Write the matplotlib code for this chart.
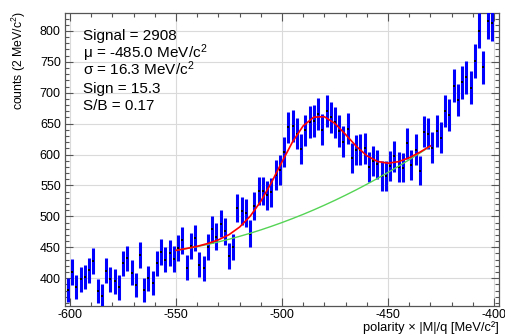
import matplotlib.pyplot as plt
from matplotlib.ticker import MultipleLocator
import numpy as np

plt.rcParams['font.family'] = ['Liberation Sans', 'DejaVu Sans']
plt.rcParams['mathtext.fontset'] = 'custom'
plt.rcParams['mathtext.rm'] = 'Liberation Sans'
plt.rcParams['mathtext.it'] = 'Liberation Sans:italic'
plt.rcParams['axes.unicode_minus'] = False

# 2 MeV bins, centres from -601 to -401
bin_centers = np.arange(-601, -400, 2)
counts = [
    381, 410, 386, 398, 402, 413, 428, 379, 371, 412,
    398, 395, 385, 424, 432, 409, 389, 438, 381, 400,
    392, 424, 443, 430, 440, 431, 449, 461, 417, 452,
    465, 422, 416, 451, 479, 467, 488, 476, 436, 451,
    514, 509, 506, 472, 517, 541, 541, 534, 539, 567,
    575, 604, 644, 646, 634, 609, 639, 653, 654, 665,
    640, 671, 660, 652, 638, 621, 642, 594, 607, 608,
    610, 580, 589, 584, 565, 565, 582, 597, 580, 579,
    618, 583, 608, 574, 637, 634, 611, 638, 627, 670,
    664, 711, 688, 717, 725, 708, 751, 800, 741, 816,
    813,
]
errors = np.sqrt(counts)

# fit curves (signal + background, background only)
fit_x = [-550, -545, -540, -535, -530, -525, -520, -515, -510, -505,
         -500, -495, -490, -485, -480, -475, -470, -465, -460, -455,
         -450, -445, -440, -435, -430]
fit_total = [445.0, 448.1, 451.6, 456.1, 462.0, 470.4, 482.7, 500.3, 524.4, 554.6,
             588.2, 620.7, 646.4, 660.5, 661.2, 650.3, 632.5, 613.6, 598.2, 588.9,
             586.0, 588.5, 594.8, 603.7, 614.0]
fit_bkg = [445.0, 447.9, 451.1, 454.7, 458.7, 463.0, 467.7, 472.7, 478.1, 483.9,
           490.0, 496.5, 503.3, 510.5, 518.1, 526.0, 534.3, 542.9, 551.9, 561.3,
           571.0, 581.1, 591.5, 602.3, 613.5]

info_lines = [
    'Signal = 2908',
    '\u03bc = -485.0 MeV/c$^{\\mathregular{2}}$',
    '\u03c3 = 16.3 MeV/c$^{\\mathregular{2}}$',
    'Sign = 15.3',
    'S/B = 0.17',
]

W, H = 505, 334
fig = plt.figure(figsize=(W / 100, H / 100), dpi=100)
ax = fig.add_axes([65 / W, 1 - 306 / H, 434 / W, 293 / H])

ax.grid(True, color='#dadada', linewidth=0.8)
ax.set_axisbelow(True)

ax.errorbar(bin_centers, counts, yerr=errors, fmt='s', color='black',
            markersize=1.6, markeredgewidth=0, ecolor='#0000ff',
            elinewidth=2.2, capsize=0, zorder=3)
ax.plot(fit_x, fit_bkg, color='#55d455', linewidth=1.0, zorder=4)
ax.plot(fit_x, fit_total, color='#ff0000', linewidth=1.2, zorder=5)

ax.set_xlim(-602.4, -397.6)
ax.set_ylim(355, 829)
ax.xaxis.set_major_locator(MultipleLocator(50))
ax.xaxis.set_minor_locator(MultipleLocator(10))
ax.yaxis.set_major_locator(MultipleLocator(50))
ax.yaxis.set_minor_locator(MultipleLocator(10))
ax.tick_params(which='both', direction='in', top=True, right=True,
               color='#555555', labelsize=9)
ax.tick_params(which='major', length=6, width=0.8)
ax.tick_params(which='minor', length=3, width=0.8)
ax.tick_params(axis='x', pad=2)
ax.tick_params(axis='y', pad=3)
for s in ax.spines.values():
    s.set_color('#555555')
    s.set_linewidth(0.9)

# stat box, baselines in pixels from the top
for i, line in enumerate(info_lines):
    y_px = 40 + i * 17.5
    ax.text(0.041, (306 - y_px) / 293, line, transform=ax.transAxes,
            fontsize=11, va='baseline', ha='left')

fig.text(19 / W, 1 - 11 / H, 'counts (2 MeV/c$^{\\mathregular{2}}$)',
         rotation=90, ha='center', va='top', fontsize=8.8)
fig.text(499 / W, 1 - 330.5 / H, 'polarity \u00d7 |M|/q [MeV/c\u00b2]',
         ha='right', va='baseline', fontsize=9.3)

fig.savefig('out.png', dpi=100)
